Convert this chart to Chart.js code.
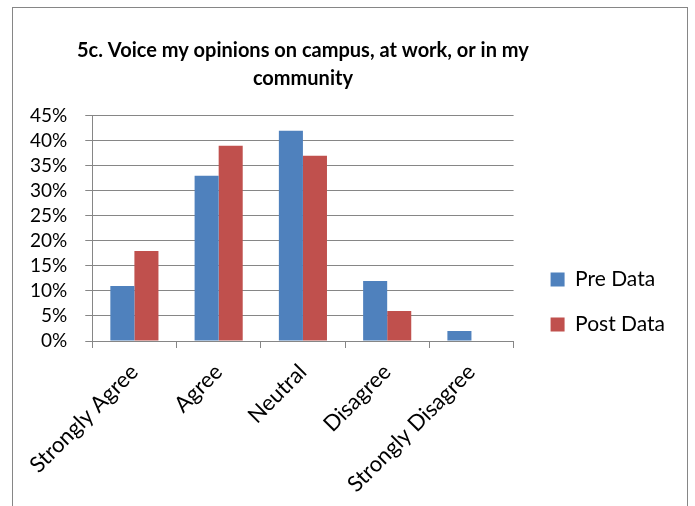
<!DOCTYPE html>
<html>
<head>
<meta charset="utf-8">
<script src="https://cdn.jsdelivr.net/npm/chart.js@4.4.1/dist/chart.umd.min.js"></script>
<style>
  html, body { margin: 0; padding: 0; background: #fff; }
  #wrap { position: relative; width: 695px; height: 506px; }
  #frame { position: absolute; left: 12px; top: 7px; width: 676px; height: 520px; border: 1px solid #868686; box-sizing: border-box; pointer-events: none; }
  canvas { position: absolute; left: 0; top: 0; }
</style>
</head>
<body>
<div id="wrap">
  <canvas id="c" width="695" height="506"></canvas>
  <div id="frame"></div>
</div>
<script>
const titleLines = ['5c. Voice my opinions on campus, at work, or in my', 'community'];
const categories = ['Strongly Agree', 'Agree', 'Neutral', 'Disagree', 'Strongly Disagree'];
const preData = [11, 33, 42, 12, 2];
const postData = [18, 39, 37, 6, 0];
const seriesNames = ['Pre Data', 'Post Data'];
const yTicks = [0, 5, 10, 15, 20, 25, 30, 35, 40, 45];

const GRID = '#868686';
const FONT = 'Lato, "Open Sans", sans-serif';

const layoutTweaks = {
  id: 'layoutTweaks',
  afterLayout(chart) {
    const ca = chart.chartArea;
    const t = chart.titleBlock;
    if (t) {
      const w = t.right - t.left;
      const c = (ca.left + ca.right) / 2;
      t.left = c - w / 2;
      t.right = c + w / 2;
    }
    const l = chart.legend;
    if (l) {
      l.top = ca.top - 18;
    }
  }
};

new Chart(document.getElementById('c'), {
  type: 'bar',
  data: {
    labels: categories,
    datasets: [
      { label: seriesNames[0], data: preData, backgroundColor: '#4F81BD', borderWidth: 0 },
      { label: seriesNames[1], data: postData, backgroundColor: '#C0504D', borderWidth: 0 }
    ]
  },
  options: {
    responsive: false,
    animation: false,
    devicePixelRatio: 1,
    categoryPercentage: 0.571,
    barPercentage: 1,
    layout: { padding: { left: 12, right: 20, top: 10, bottom: 0 } },
    plugins: {
      title: {
        display: true,
        text: titleLines,
        color: '#000',
        font: { family: FONT, size: 20, weight: 'bold', lineHeight: 1.42 },
        padding: { top: 26, bottom: 23 }
      },
      legend: {
        position: 'right',
        maxWidth: 200,
        labels: {
          color: '#000',
          font: { family: FONT, size: 21 },
          boxWidth: 14,
          boxHeight: 14,
          padding: 24
        }
      },
      tooltip: { enabled: false }
    },
    scales: {
      x: {
        grid: { display: true, drawOnChartArea: false, drawTicks: true, tickLength: 7, color: GRID, offset: true },
        border: { display: true, color: GRID },
        ticks: { color: '#000', font: { family: FONT, size: 22 }, maxRotation: 45, minRotation: 45, padding: 11 },
        afterFit(scale) { scale.height = 165; }
      },
      y: {
        min: 0,
        max: 45,
        afterBuildTicks(scale) { scale.ticks = yTicks.map(v => ({ value: v })); },
        grid: { color: GRID, tickLength: 7 },
        border: { display: true, color: GRID },
        ticks: { color: '#000', font: { family: FONT, size: 19 }, padding: 18, autoSkip: false, callback: v => v + '%' }
      },
      gap: {
        position: 'right',
        display: true,
        grid: { display: false },
        border: { display: false },
        ticks: { display: false },
        afterFit(scale) { scale.width = 13; }
      }
    }
  },
  plugins: [layoutTweaks]
});
</script>
</body>
</html>
